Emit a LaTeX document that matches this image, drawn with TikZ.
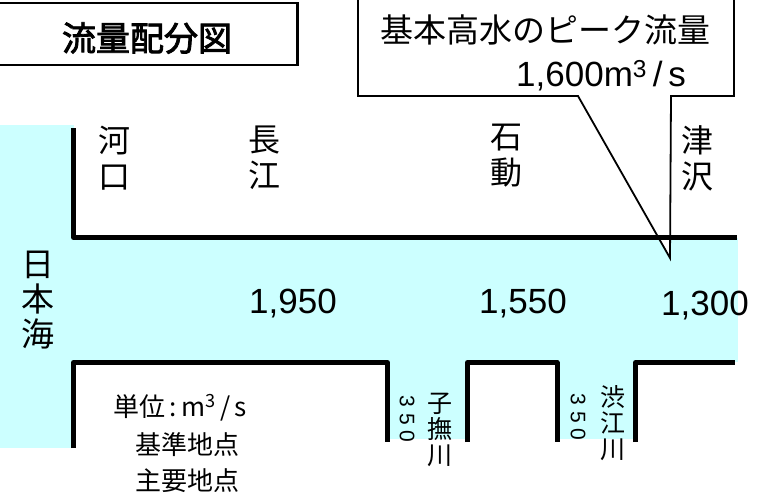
\documentclass[tikz,border=0pt]{standalone}
\usepackage{fontspec}
\setmainfont{Liberation Sans}
\newfontfamily\jp[AutoFakeBold=2.5]{Noto Sans CJK JP}
\definecolor{sea}{RGB}{204,255,255}
\tikzset{
  wall/.style={line width=5pt, line join=round},
  callout/.style={draw, fill=white, line width=1.8pt, line join=miter},
  titlebox/.style={draw, line width=2.3pt},
  stn/.style={font=\jp\fontsize{32}{36}\selectfont, align=center, inner sep=0pt},
  trib/.style={font=\jp\fontsize{25}{26}\selectfont, align=center, inner sep=0pt},
  num/.style={font=\fontsize{35}{40}\selectfont, inner sep=0pt, anchor=base west},
  qty/.style={font=\fontsize{21}{22}\selectfont, inner sep=0pt, rotate=-90},
  legend/.style={font=\jp\fontsize{26}{30}\selectfont, inner sep=0pt, anchor=west}
}
\begin{document}
\begin{tikzpicture}[x=1pt,y=-1pt]
\useasboundingbox (0,0) rectangle (763,495);
\clip (0,0) rectangle (763,495);
% water
\fill[sea] (0,125) rectangle (74,448);
\fill[sea] (0,238) rectangle (738,362);
\fill[sea] (387,360) rectangle (467,439);
\fill[sea] (557,360) rectangle (636,439);
% title
\draw[titlebox] (-5,3) rectangle (297.5,65);
\node[font=\jp\bfseries\fontsize{34}{40}\selectfont, inner sep=0pt] (title) at (147,38) {流量配分図};
% callout
\draw[callout] (358,-5) -- (358,96) -- (578,96) -- (670,258) -- (671,96) -- (734,96) -- (734,-5) -- cycle;
\node[font=\jp\fontsize{33}{36}\selectfont, inner sep=0pt] (peak) at (545,30) {基本高水のピーク流量};
\node[font=\fontsize{35}{40}\selectfont, inner sep=0pt, anchor=base west] (peakq) at (516,87) {1,600m\textsuperscript{3}\,/\,s};
% walls
\draw[wall] (73.5,128) -- (73.5,237.5) -- (737,237.5);
\draw[wall] (73.5,448) -- (73.5,362.5) -- (387.5,362.5) -- (387.5,442);
\draw[wall] (467.5,442) -- (467.5,362.5) -- (557,362.5) -- (557,442);
\draw[wall] (635.5,442) -- (635.5,362.5) -- (735,362.5);
% station labels
\node[stn] (kako) at (114,158) {河\\口};
\node[stn] (nagae) at (264,158) {長\\江};
\node[stn] (isurugi) at (506,156) {石\\動};
\node[stn] (tsuzawa) at (697,158) {津\\沢};
\node[font=\jp\fontsize{33}{35}\selectfont, align=center, inner sep=0pt] (sea) at (38,300) {日\\本\\海};
% discharges
\node[num] (q1) at (249,313) {1,950};
\node[num] (q2) at (479,313) {1,550};
\node[num] (q3) at (661,315) {1,300};
% tributaries
\node[trib] (konashi) at (440,430) {子\\撫\\川};
\node[trib] (shibue) at (613,423) {渋\\江\\川};
\node[qty] (qk) at (407,419) {3 5 0};
\node[qty] (qs) at (578,417) {3 5 0};
% legend
\node[legend] (unit) at (113,408) {単位\,:\,m\textsuperscript{3}\,/\,s};
\node[legend] (kijun) at (135,445) {基準地点};
\node[legend] (shuyo) at (135,481) {主要地点};
\end{tikzpicture}
\end{document}
